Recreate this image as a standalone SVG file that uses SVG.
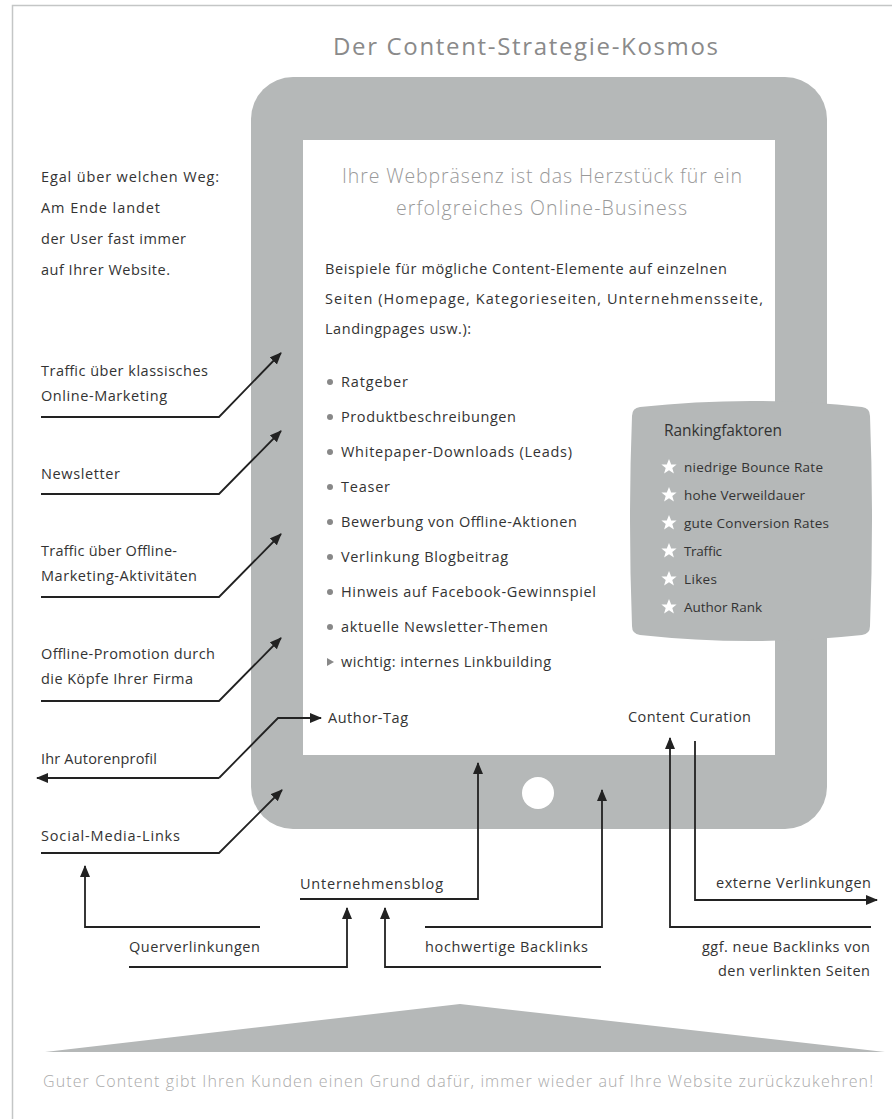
<svg xmlns="http://www.w3.org/2000/svg" width="892" height="1119" viewBox="0 0 892 1119">
<defs>
<style>
text{font-family:"Open Sans",Lato,"Liberation Sans",sans-serif;fill:#333;font-size:14.5px}
.title{font-size:24px;fill:#8a8a8a}
.head{font-size:19.5px;fill:#999;font-weight:300}
.rk{font-size:13.5px;fill:#333}
.foot{font-size:16px;fill:#aaa;font-weight:300}
.con{fill:none;stroke:#222;stroke-width:1.8}
.arr{marker-end:url(#ah)}
.dot{fill:#888}
.star{fill:#fff}
</style>
<marker id="ah" markerUnits="userSpaceOnUse" markerWidth="14" markerHeight="12" refX="11" refY="5" orient="auto">
<path d="M0,0 L12,5 L0,10 Z" fill="#222"/>
</marker>
<path id="st" d="M0,-8 L2.2,-2.6 L7.6,-2.5 L3.3,1 L4.9,6.5 L0,3.3 L-4.9,6.5 L-3.3,1 L-7.6,-2.5 L-2.2,-2.6 Z"/>
</defs>
<rect x="0" y="0" width="892" height="1119" fill="#fff"/>
<path d="M12.5,1119 V5.5 H892" fill="none" stroke="#c4c6c6" stroke-width="1.5"/>
<text class="title" x="333" y="55" textLength="385">Der Content-Strategie-Kosmos</text>

<g id="tablet">
<rect x="251" y="77" width="576" height="752" rx="42" fill="#b5b8b8"/>
<rect x="303" y="140" width="472" height="615" fill="#fff"/>
<circle cx="538" cy="793" r="16" fill="#fff"/>
</g>

<g id="screen-content">
<text class="head" x="342" y="183" textLength="400">Ihre Webpräsenz ist das Herzstück für ein</text>
<text class="head" x="396" y="215" textLength="291">erfolgreiches Online-Business</text>
<text x="325" y="274" textLength="402">Beispiele für mögliche Content-Elemente auf einzelnen</text>
<text x="325" y="304" textLength="438">Seiten (Homepage, Kategorieseiten, Unternehmensseite,</text>
<text x="325" y="334" textLength="146">Landingpages usw.):</text>
</g>

<g id="bullets">
<circle class="dot" cx="330" cy="382" r="3"/><text x="341" y="387" textLength="67">Ratgeber</text>
<circle class="dot" cx="330" cy="417" r="3"/><text x="341" y="422" textLength="175">Produktbeschreibungen</text>
<circle class="dot" cx="330" cy="452" r="3"/><text x="341" y="457" textLength="231">Whitepaper-Downloads (Leads)</text>
<circle class="dot" cx="330" cy="487" r="3"/><text x="341" y="492" textLength="49">Teaser</text>
<circle class="dot" cx="330" cy="522" r="3"/><text x="341" y="527" textLength="236">Bewerbung von Offline-Aktionen</text>
<circle class="dot" cx="330" cy="557" r="3"/><text x="341" y="562" textLength="167">Verlinkung Blogbeitrag</text>
<circle class="dot" cx="330" cy="592" r="3"/><text x="341" y="597" textLength="255">Hinweis auf Facebook-Gewinnspiel</text>
<circle class="dot" cx="330" cy="627" r="3"/><text x="341" y="632" textLength="207">aktuelle Newsletter-Themen</text>
<path class="dot" d="M327,658 L334,662 L327,666 Z"/><text x="341" y="667" textLength="210">wichtig: internes Linkbuilding</text>
</g>

<g id="rankingfaktoren">
<path d="M640,407 Q751,395 862,407 Q870,408 870,416 Q874,520 870,626 Q870,634 862,635 Q751,647 640,635 Q632,634 632,626 Q628,520 632,416 Q632,408 640,407 Z" fill="#b5b8b8"/>
<text x="664" y="436" style="font-size:15.5px" textLength="118">Rankingfaktoren</text>
<use href="#st" class="star" x="669" y="467"/><text class="rk" x="684" y="472" textLength="139">niedrige Bounce Rate</text>
<use href="#st" class="star" x="669" y="495"/><text class="rk" x="684" y="500" textLength="121">hohe Verweildauer</text>
<use href="#st" class="star" x="669" y="523"/><text class="rk" x="684" y="528" textLength="145">gute Conversion Rates</text>
<use href="#st" class="star" x="669" y="551"/><text class="rk" x="684" y="556" textLength="38">Traffic</text>
<use href="#st" class="star" x="669" y="579"/><text class="rk" x="684" y="584" textLength="33">Likes</text>
<use href="#st" class="star" x="669" y="607"/><text class="rk" x="684" y="612" textLength="78">Author Rank</text>
</g>

<g id="intro">
<text x="41" y="182" textLength="178">Egal über welchen Weg:</text>
<text x="41" y="213" textLength="119">Am Ende landet</text>
<text x="41" y="244" textLength="145">der User fast immer</text>
<text x="41" y="275" textLength="129">auf Ihrer Website.</text>
</g>

<g id="traffic-online"><text x="41" y="376" textLength="167">Traffic über klassisches</text><text x="41" y="401" textLength="126">Online-Marketing</text></g>
<g id="newsletter"><text x="41" y="479" textLength="79">Newsletter</text></g>
<g id="traffic-offline"><text x="41" y="556" textLength="136">Traffic über Offline-</text><text x="41" y="581" textLength="156">Marketing-Aktivitäten</text></g>
<g id="offline-promotion"><text x="41" y="659" textLength="174">Offline-Promotion durch</text><text x="41" y="684" textLength="152">die Köpfe Ihrer Firma</text></g>
<g id="author-tag"><text x="328" y="723" textLength="80">Author-Tag</text></g>
<g id="autorenprofil"><text x="41" y="764" textLength="116">Ihr Autorenprofil</text></g>
<g id="social-media"><text x="41" y="841" textLength="139">Social-Media-Links</text></g>
<g id="content-curation"><text x="628" y="722" textLength="123">Content Curation</text></g>
<g id="unternehmensblog"><text x="300" y="889" textLength="143">Unternehmensblog</text></g>
<g id="querverlinkungen"><text x="129" y="952" textLength="131">Querverlinkungen</text></g>
<g id="backlinks"><text x="425" y="952" textLength="163">hochwertige Backlinks</text></g>
<g id="externe"><text x="716" y="888" textLength="155">externe Verlinkungen</text></g>
<g id="neue-backlinks"><text x="702" y="952" textLength="168">ggf. neue Backlinks von</text><text x="718" y="976" textLength="152">den verlinkten Seiten</text></g>

<g id="connectors">
<path class="con arr" d="M41,417 H219 L281,353"/>
<path class="con arr" d="M41,494 H219 L281,431"/>
<path class="con arr" d="M41,597 H219 L281,534"/>
<path class="con arr" d="M41,701 H219 L281,638"/>
<path class="con arr" d="M219,778 L278,718 H321"/>
<path class="con arr" d="M219,778 H37"/>
<path class="con arr" d="M41,853 H219 L282,790"/>
<path class="con arr" d="M260,927 H85 V866"/>
<path class="con arr" d="M300,899 H478 V763"/>
<path class="con arr" d="M129,967 H347 V908"/>
<path class="con arr" d="M601,967 H385 V908"/>
<path class="con arr" d="M425,927 H602 V790"/>
<path class="con arr" d="M871,927 H670 V738"/>
<path class="con arr" d="M695,741 V900 H877"/>
</g>

<g id="foundation">
<path d="M45,1052 L460,1004 L885,1052 Z" fill="#b5b8b8"/>
<text class="foot" x="43" y="1087" textLength="830">Guter Content gibt Ihren Kunden einen Grund dafür, immer wieder auf Ihre Website zurückzukehren!</text>
</g>
</svg>
